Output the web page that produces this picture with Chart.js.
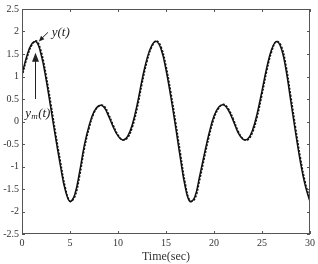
<!DOCTYPE html>
<html>
<head>
<meta charset="utf-8">
<script src="https://cdn.jsdelivr.net/npm/chart.js@4.4.1/dist/chart.umd.min.js"></script>
<style>
  html, body { margin: 0; padding: 0; background: #fff; }
  #wrap { width: 318px; height: 264px; }
</style>
</head>
<body>
<div id="wrap"><canvas id="respChart"></canvas></div>
<script>
// time axis (sec)
const timeSec = [0, 0.5, 1, 1.5, 2, 2.5, 3, 3.5, 4, 4.5, 5, 5.5, 6, 6.5, 7, 7.5, 8, 8.5, 9, 9.5,
  10, 10.5, 11, 11.5, 12, 12.5, 13, 13.5, 14, 14.5, 15, 15.5, 16, 16.5, 17, 17.5, 18, 18.5, 19, 19.5,
  20, 20.5, 21, 21.5, 22, 22.5, 23, 23.5, 24, 24.5, 25, 25.5, 26, 26.5, 27, 27.5, 28, 28.5, 29, 29.5, 30];

// y_m(t) - reference model output (solid)
const modelOut = [1.05, 1.45, 1.72, 1.77, 1.48, 0.95, 0.30, -0.36, -0.98, -1.52, -1.78, -1.62, -1.12, -0.52, -0.08, 0.22, 0.35, 0.33, 0.13, -0.12,
  -0.32, -0.41, -0.33, -0.06, 0.38, 0.92, 1.38, 1.68, 1.78, 1.60, 1.15, 0.55, -0.12, -0.82, -1.45, -1.78, -1.68, -1.22, -0.72, -0.25,
  0.12, 0.32, 0.37, 0.25, 0.02, -0.24, -0.39, -0.39, -0.20, 0.18, 0.68, 1.20, 1.60, 1.78, 1.63, 1.15, 0.45, -0.25, -0.90, -1.42, -1.78];

// y(t) - plant output (dashed)
const plantOut = [1.00, 1.40, 1.69, 1.79, 1.55, 1.04, 0.40, -0.26, -0.89, -1.46, -1.77, -1.67, -1.21, -0.60, -0.14, 0.19, 0.34, 0.35, 0.17, -0.08,
  -0.30, -0.41, -0.36, -0.12, 0.30, 0.84, 1.32, 1.65, 1.79, 1.65, 1.23, 0.65, -0.01, -0.71, -1.37, -1.76, -1.72, -1.30, -0.80, -0.32,
  0.07, 0.30, 0.38, 0.28, 0.06, -0.21, -0.38, -0.41, -0.25, 0.11, 0.60, 1.13, 1.55, 1.78, 1.68, 1.24, 0.56, -0.14, -0.81, -1.35, -1.74];

const xTicks = [0, 5, 10, 15, 20, 25, 30];
const yTicks = [-2.5, -2, -1.5, -1, -0.5, 0, 0.5, 1, 1.5, 2, 2.5];

const serif = '"Liberation Serif", "DejaVu Serif", serif';

function toPoints(vals) {
  return timeSec.map((t, i) => ({ x: t, y: vals[i] }));
}

// box + inward ticks on all four sides, matlab style
const frameTicks = {
  id: 'frameTicks',
  afterDraw(chart) {
    const { ctx, chartArea: a, scales: { x, y } } = chart;
    ctx.save();
    ctx.strokeStyle = '#555';
    ctx.lineWidth = 1;
    ctx.strokeRect(a.left + 0.5, a.top + 0.5, a.right - a.left - 1, a.bottom - a.top - 1);
    ctx.beginPath();
    xTicks.forEach(v => {
      const px = Math.round(x.getPixelForValue(v)) + 0.5;
      ctx.moveTo(px, a.bottom); ctx.lineTo(px, a.bottom - 3);
      ctx.moveTo(px, a.top); ctx.lineTo(px, a.top + 3);
    });
    yTicks.forEach(v => {
      const py = Math.round(y.getPixelForValue(v)) + 0.5;
      ctx.moveTo(a.left, py); ctx.lineTo(a.left + 3, py);
      ctx.moveTo(a.right, py); ctx.lineTo(a.right - 3, py);
    });
    ctx.stroke();
    ctx.restore();
  }
};

// the two labels with arrows
const labels = {
  id: 'curveLabels',
  afterDatasetsDraw(chart) {
    const { ctx, scales: { x, y } } = chart;
    ctx.save();
    ctx.fillStyle = '#222';
    ctx.strokeStyle = '#222';
    ctx.textBaseline = 'middle';
    ctx.textAlign = 'left';

    // y(t)
    ctx.font = 'italic 13px ' + serif;
    ctx.fillText('y(t)', x.getPixelForValue(3.1), y.getPixelForValue(1.97));
    let x1 = x.getPixelForValue(2.7), y1 = y.getPixelForValue(1.98);
    let x2 = x.getPixelForValue(1.75), y2 = y.getPixelForValue(1.78);
    ctx.lineWidth = 1;
    ctx.beginPath(); ctx.moveTo(x1, y1); ctx.lineTo(x2 + 3, y2 - 3); ctx.stroke();
    let ang = Math.atan2(y2 - y1, x2 - x1);
    ctx.beginPath();
    ctx.moveTo(x2, y2);
    ctx.lineTo(x2 - 6 * Math.cos(ang - 0.4), y2 - 6 * Math.sin(ang - 0.4));
    ctx.lineTo(x2 - 6 * Math.cos(ang + 0.4), y2 - 6 * Math.sin(ang + 0.4));
    ctx.closePath(); ctx.fill();

    // y_m(t)
    const lx = x.getPixelForValue(0.35), ly = y.getPixelForValue(0.17);
    ctx.font = 'italic 13px ' + serif;
    ctx.fillText('y', lx, ly);
    let w = ctx.measureText('y').width;
    ctx.font = 'italic 9px ' + serif;
    ctx.fillText('m', lx + w, ly + 3);
    w += ctx.measureText('m').width;
    ctx.font = 'italic 13px ' + serif;
    ctx.fillText('(t)', lx + w + 0.5, ly);

    const ax = Math.round(x.getPixelForValue(1.35)) + 0.5;
    const ay0 = y.getPixelForValue(0.5), ay1 = y.getPixelForValue(1.53);
    ctx.beginPath(); ctx.moveTo(ax, ay0); ctx.lineTo(ax, ay1 + 6); ctx.stroke();
    ctx.beginPath();
    ctx.moveTo(ax, ay1);
    ctx.lineTo(ax - 3.5, ay1 + 9);
    ctx.lineTo(ax + 3.5, ay1 + 9);
    ctx.closePath(); ctx.fill();
    ctx.restore();
  }
};

const ctx = document.getElementById('respChart').getContext('2d');
const respChart = new Chart(ctx, {
  type: 'line',
  data: {
    datasets: [{
      label: 'y_m(t)',
      data: toPoints(modelOut),
      borderColor: '#111',
      borderWidth: 1.5,
      pointRadius: 0,
      tension: 0.4,
      fill: false
    }, {
      label: 'y(t)',
      data: toPoints(plantOut),
      borderColor: '#111',
      borderWidth: 1.6,
      borderDash: [2, 1.5],
      pointRadius: 0,
      tension: 0.4,
      fill: false
    }]
  },
  options: {
    responsive: true,
    maintainAspectRatio: false,
    animation: false,
    layout: { padding: { top: 6, right: 8, left: 0, bottom: 0 } },
    plugins: { legend: { display: false }, tooltip: { enabled: false } },
    scales: {
      x: {
        type: 'linear',
        min: 0, max: 30,
        afterBuildTicks: s => { s.ticks = xTicks.map(v => ({ value: v })); },
        afterFit: s => { s.height = 30; },
        grid: { display: false, drawTicks: false },
        border: { display: false },
        ticks: { color: '#333', font: { family: serif, size: 10 }, padding: 3, maxRotation: 0, callback: v => String(v) },
        title: { display: true, text: 'Time(sec)', color: '#333', font: { family: serif, size: 12 }, padding: { top: 0, bottom: 0 } }
      },
      y: {
        min: -2.5, max: 2.5,
        afterBuildTicks: s => { s.ticks = yTicks.map(v => ({ value: v })); },
        afterFit: s => { s.width = 22; },
        grid: { display: false, drawTicks: false },
        border: { display: false },
        ticks: { color: '#333', font: { family: serif, size: 10 }, padding: 3, callback: v => String(v) }
      }
    }
  },
  plugins: [frameTicks, labels]
});
</script>
</body>
</html>
